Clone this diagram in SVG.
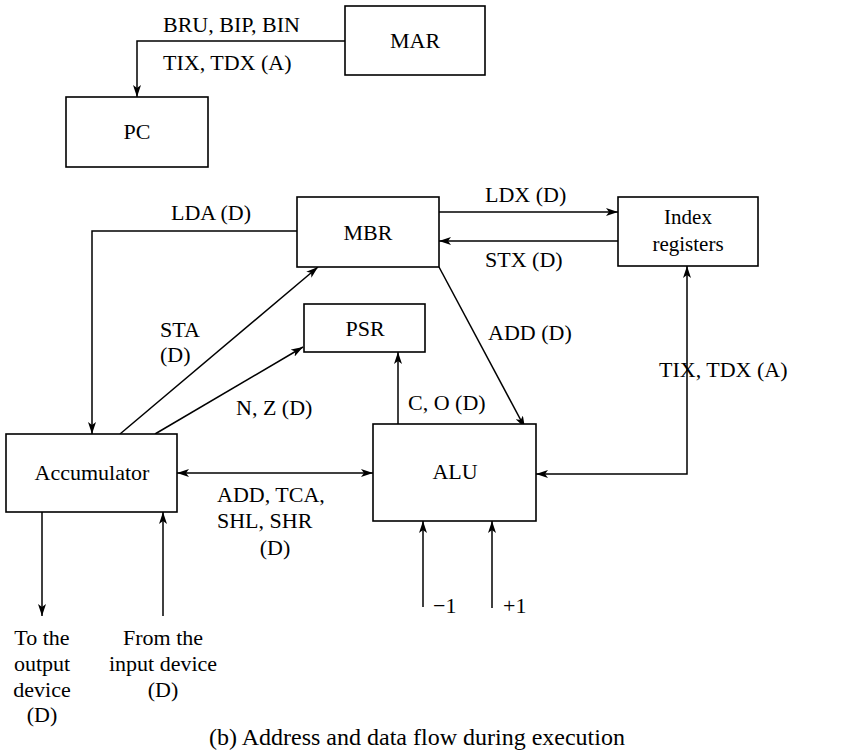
<svg xmlns="http://www.w3.org/2000/svg" width="848" height="754" viewBox="0 0 848 754" font-family="Liberation Serif" font-size="22">
<style>
.box{fill:#fff;stroke:#000;stroke-width:1.6}
.ln{fill:none;stroke:#000;stroke-width:1.5}
</style>
<defs>
<marker id="ah" viewBox="0 0 12 8" refX="12" refY="4" markerWidth="12" markerHeight="8" markerUnits="userSpaceOnUse" orient="auto-start-reverse">
<path d="M0,0 L12,4 L0,8 L3,4 Z" fill="#000"/>
</marker>
</defs>
<rect width="848" height="754" fill="#fff"/>
<g id="connectors">
<path class="ln" d="M345,41 H137 V97" marker-end="url(#ah)"/>
<path class="ln" d="M297,231 H92 V434" marker-end="url(#ah)"/>
<path class="ln" d="M439,212 H618" marker-end="url(#ah)"/>
<path class="ln" d="M618,241 H439" marker-end="url(#ah)"/>
<path class="ln" d="M120,434 L318,267" marker-end="url(#ah)"/>
<path class="ln" d="M155,434 L303,347" marker-end="url(#ah)"/>
<path class="ln" d="M439,267 L525,428" marker-end="url(#ah)"/>
<path class="ln" d="M398,424 V352" marker-end="url(#ah)"/>
<path class="ln" d="M177,473 H373" marker-start="url(#ah)" marker-end="url(#ah)"/>
<path class="ln" d="M536,474 H687 V266" marker-start="url(#ah)" marker-end="url(#ah)"/>
<path class="ln" d="M423,607 V521" marker-end="url(#ah)"/>
<path class="ln" d="M492,608 V521" marker-end="url(#ah)"/>
<path class="ln" d="M42,512 V616" marker-end="url(#ah)"/>
<path class="ln" d="M163,616 V512" marker-end="url(#ah)"/>
</g>
<g id="labels" font-family="Liberation Serif" font-size="22">
<text x="163" y="32">BRU, BIP, BIN</text>
<text x="163" y="70">TIX, TDX (A)</text>
<text x="171" y="220">LDA (D)</text>
<text x="485" y="202">LDX (D)</text>
<text x="485" y="267">STX (D)</text>
<text x="160" y="337">STA</text>
<text x="160" y="362">(D)</text>
<text x="236" y="415">N, Z (D)</text>
<text x="408" y="410">C, O (D)</text>
<text x="488" y="340">ADD (D)</text>
<text x="659" y="377">TIX, TDX (A)</text>
<text x="217" y="502">ADD, TCA,</text>
<text x="217" y="528">SHL, SHR</text>
<text x="275" y="555" text-anchor="middle">(D)</text>
<text x="433" y="613">−1</text>
<text x="503" y="613">+1</text>
<text x="42" y="645" text-anchor="middle">To the</text>
<text x="42" y="671" text-anchor="middle">output</text>
<text x="42" y="697" text-anchor="middle">device</text>
<text x="42" y="722" text-anchor="middle">(D)</text>
<text x="163" y="645" text-anchor="middle">From the</text>
<text x="163" y="671" text-anchor="middle">input device</text>
<text x="163" y="697" text-anchor="middle">(D)</text>
<text x="417" y="745" text-anchor="middle" font-size="24">(b) Address and data flow during execution</text>
</g>
<g id="MAR" font-family="Liberation Serif" font-size="22"><rect class="box" x="345" y="6" width="140" height="69"/><text x="415" y="48" text-anchor="middle">MAR</text></g>
<g id="PC" font-family="Liberation Serif" font-size="22"><rect class="box" x="66" y="97" width="142" height="70"/><text x="137" y="139" text-anchor="middle">PC</text></g>
<g id="MBR" font-family="Liberation Serif" font-size="22"><rect class="box" x="297" y="197" width="142" height="70"/><text x="368" y="240" text-anchor="middle">MBR</text></g>
<g id="IndexRegisters" font-family="Liberation Serif" font-size="21"><rect class="box" x="618" y="197" width="140" height="69"/><text x="688" y="224" text-anchor="middle">Index</text><text x="688" y="251" text-anchor="middle">registers</text></g>
<g id="PSR" font-family="Liberation Serif" font-size="22"><rect class="box" x="304" y="304" width="121" height="48"/><text x="365" y="336" text-anchor="middle">PSR</text></g>
<g id="Accumulator" font-family="Liberation Serif" font-size="22"><rect class="box" x="6" y="434" width="171" height="78"/><text x="92" y="480" text-anchor="middle">Accumulator</text></g>
<g id="ALU" font-family="Liberation Serif" font-size="22"><rect class="box" x="373" y="424" width="163" height="97"/><text x="455" y="479" text-anchor="middle">ALU</text></g>
</svg>
